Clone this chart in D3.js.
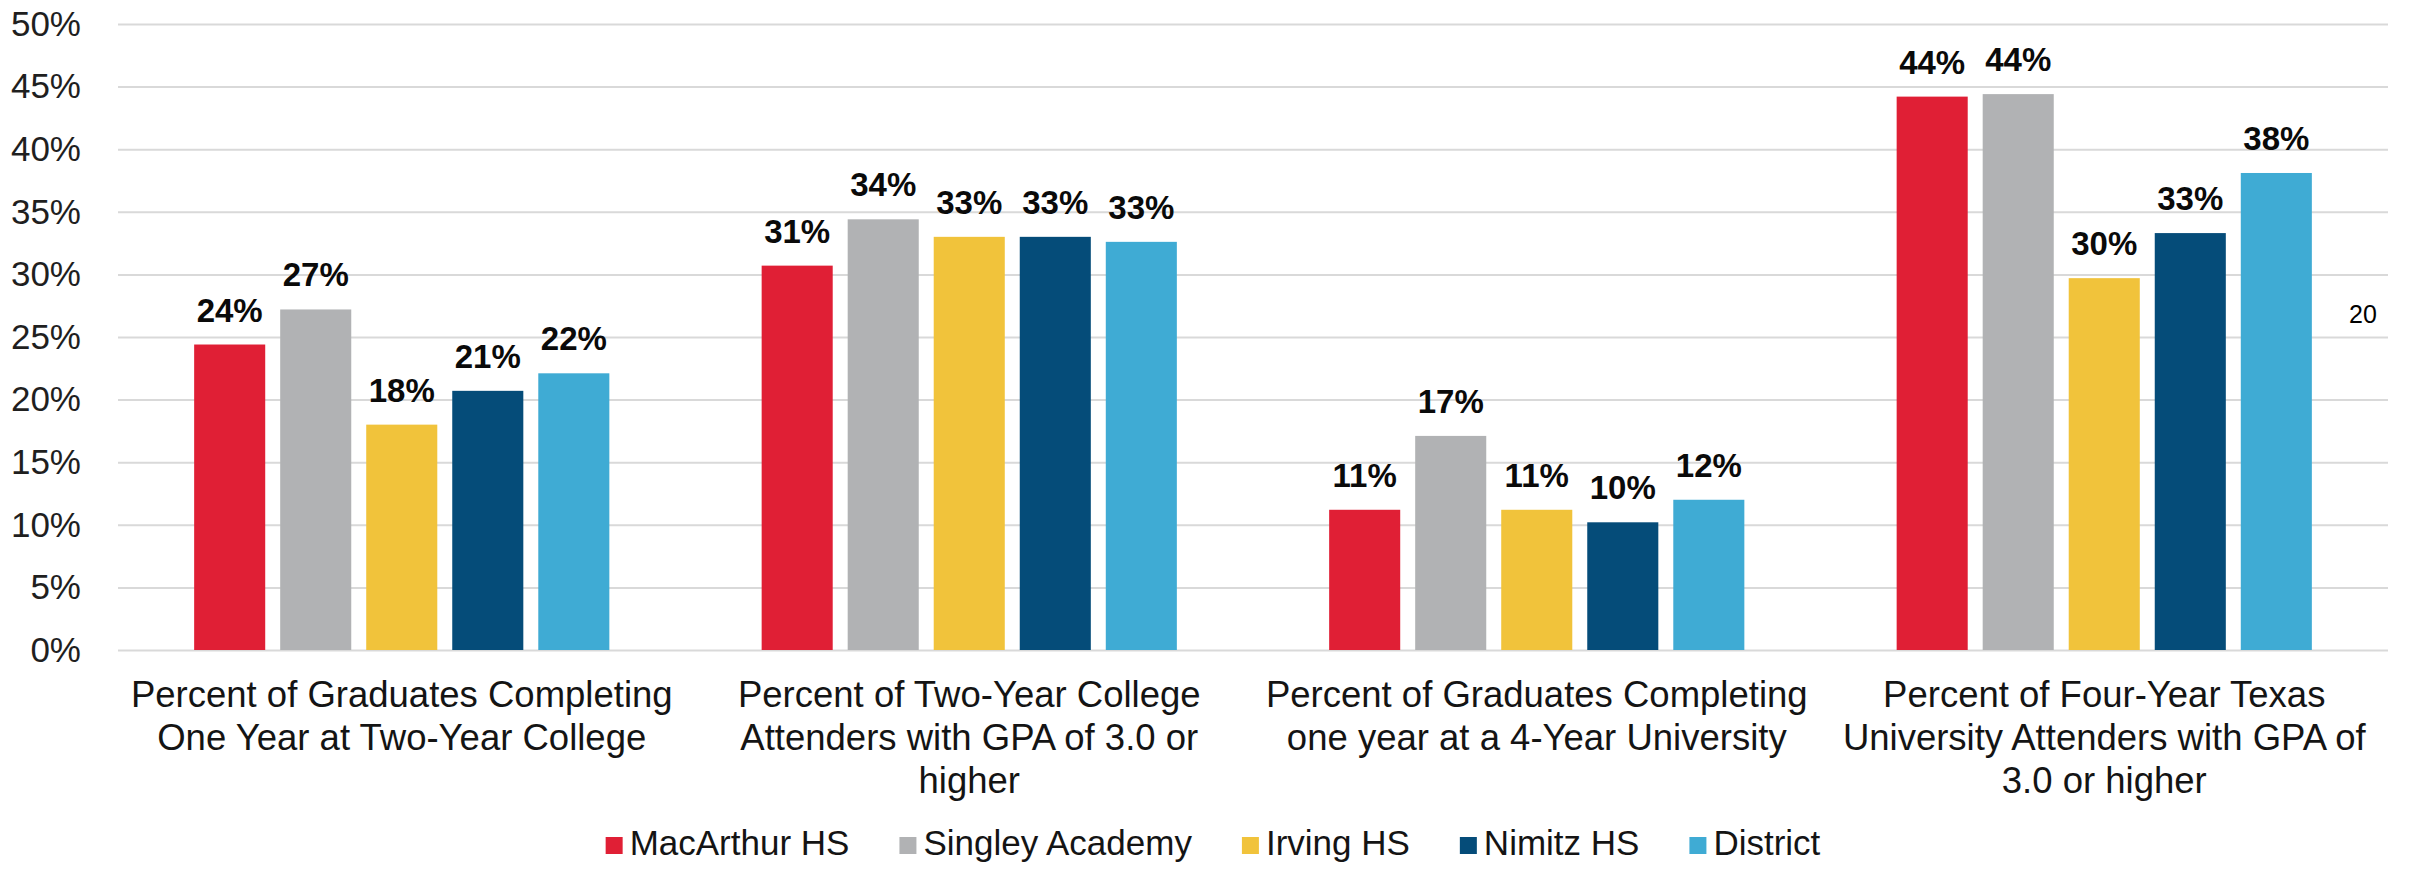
<!DOCTYPE html>
<html lang="en">
    <head>
        <meta charset="utf-8">
        <title>Graduate outcomes by campus</title>
        <script type="text/javascript" src="https://d3js.org/d3.v7.min.js"></script>
        <style>
            body { margin: 0; background: #FFFFFF; }
            text { font-family: "Liberation Sans", Arial, sans-serif; }
        </style>
    </head>
    <body>
        <script>
        // data
        const categories = [
            ["Percent of Graduates Completing", "One Year at Two-Year College"],
            ["Percent of Two-Year College", "Attenders with GPA of 3.0 or", "higher"],
            ["Percent of Graduates Completing", "one year at a 4-Year University"],
            ["Percent of Four-Year Texas", "University Attenders with GPA of", "3.0 or higher"]
        ];
        const schools = ["MacArthur HS", "Singley Academy", "Irving HS", "Nimitz HS", "District"];
        const colors = ["#E01F35", "#B1B2B4", "#F1C33B", "#054C79", "#3FABD4"];

        // percent values, one array per school (same order as categories)
        const macArthur = [24.4, 30.7, 11.2, 44.2];
        const singley   = [27.2, 34.4, 17.1, 44.4];
        const irving    = [18.0, 33.0, 11.2, 29.7];
        const nimitz    = [20.7, 33.0, 10.2, 33.3];
        const district  = [22.1, 32.6, 12.0, 38.1];
        const series = [macArthur, singley, irving, nimitz, district];

        const yTicks = [0, 5, 10, 15, 20, 25, 30, 35, 40, 45, 50];

        const margin = {top: 24, right: 24, bottom: 224, left: 118},
            width = 2412 - margin.left - margin.right,
            height = 874 - margin.top - margin.bottom;

        const svg = d3.select("body")
            .append("svg")
                .attr("width", width + margin.left + margin.right)
                .attr("height", height + margin.top + margin.bottom)
            .append("g")
                .attr("transform", `translate(${margin.left}, ${margin.top})`);

        // scales
        const x0 = d3.scaleBand()
            .domain(d3.range(categories.length))
            .range([0, width])
            .paddingInner(0.242)
            .paddingOuter(0.121);
        const x1 = d3.scaleBand()
            .domain(d3.range(schools.length))
            .range([0, x0.bandwidth()])
            .paddingInner(0.174)
            .paddingOuter(0.087);
        const y = d3.scaleLinear()
            .domain([0, 50])
            .range([height, 0]);

        // y axis + gridlines
        const yAxis = svg.append("g")
            .call(d3.axisLeft(y)
                .tickValues(yTicks)
                .tickSize(-width)
                .tickPadding(37)
                .tickFormat(d => d + "%"));
        yAxis.select(".domain").remove();
        yAxis.selectAll(".tick line")
            .attr("stroke", "#D9D9D9")
            .attr("stroke-width", 2);
        yAxis.selectAll(".tick text")
            .attr("fill", "#1F1F1F")
            .attr("font-family", "Liberation Sans, Arial, sans-serif")
            .attr("font-size", "35px");

        // bars
        const groups = svg.selectAll(".grp")
            .data(categories)
            .join("g")
            .attr("class", "grp")
            .attr("transform", (d, i) => `translate(${x0(i)}, 0)`);

        groups.selectAll("rect")
            .data((d, i) => series.map((s, j) => ({school: j, value: s[i]})))
            .join("rect")
            .attr("x", d => x1(d.school))
            .attr("y", d => y(d.value))
            .attr("width", x1.bandwidth())
            .attr("height", d => height - y(d.value))
            .attr("fill", d => colors[d.school]);

        // value labels
        groups.selectAll(".val")
            .data((d, i) => series.map((s, j) => ({school: j, value: s[i]})))
            .join("text")
            .attr("class", "val")
            .attr("x", d => x1(d.school) + x1.bandwidth() / 2)
            .attr("y", d => y(d.value) - 23)
            .attr("text-anchor", "middle")
            .attr("font-size", "33px")
            .attr("font-weight", 700)
            .attr("fill", "#0A0A0A")
            .text(d => Math.round(d.value) + "%");

        // category labels
        groups.append("text")
            .attr("text-anchor", "middle")
            .attr("font-size", "36.5px")
            .attr("fill", "#141414")
            .selectAll("tspan")
            .data(d => d)
            .join("tspan")
            .attr("x", x0.bandwidth() / 2)
            .attr("y", (d, i) => height + 57 + i * 43)
            .text(d => d);

        // legend
        const legendSize = 17;
        const legendGap = 7;
        const legendSpacing = 50;
        const legendCenter = 1213 - margin.left;

        const legend = svg.append("g")
            .attr("transform", `translate(0, ${height + 205})`);
        const items = legend.selectAll("g")
            .data(schools)
            .join("g");
        items.append("rect")
            .attr("y", -18)
            .attr("width", legendSize)
            .attr("height", legendSize)
            .attr("fill", (d, i) => colors[i]);
        items.append("text")
            .attr("x", legendSize + legendGap)
            .attr("y", 0)
            .attr("font-size", "35px")
            .attr("fill", "#141414")
            .text(d => d);

        let widths = [];
        items.select("text").each(function() { widths.push(this.getComputedTextLength()); });
        const itemW = widths.map(w => legendSize + legendGap + w);
        const total = d3.sum(itemW) + legendSpacing * (schools.length - 1);
        let pos = legendCenter - total / 2;
        items.attr("transform", (d, i) => {
            const t = `translate(${pos}, 0)`;
            pos += itemW[i] + legendSpacing;
            return t;
        });

        // slide page number
        svg.append("text")
            .attr("x", 2349 - margin.left)
            .attr("y", 323 - margin.top)
            .attr("font-size", "25px")
            .attr("fill", "#000000")
            .text("20");
        </script>
    </body>
</html>
